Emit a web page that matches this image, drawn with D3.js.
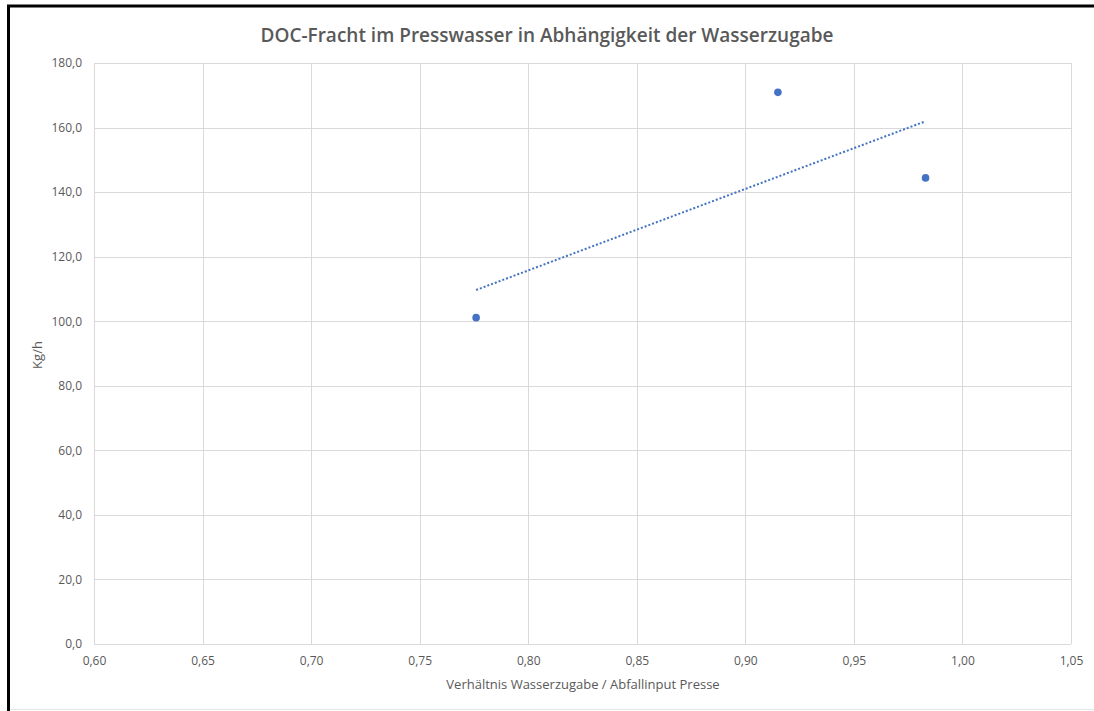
<!DOCTYPE html>
<html>
<head>
<meta charset="utf-8">
<script src="https://cdn.jsdelivr.net/npm/d3@7"></script>
<style>
  body { margin: 0; background: #fff; }
  svg { display: block; }
  .tick text { fill: #595959; font-family: "Open Sans", sans-serif; font-size: 12px; }
  .grid line { stroke: #d9d9d9; stroke-width: 1; }
</style>
</head>
<body>
<svg id="chart" width="1094" height="711"></svg>
<script>
// data
var chartTitle = "DOC-Fracht im Presswasser in Abhängigkeit der Wasserzugabe";
var xTitle = "Verhältnis Wasserzugabe / Abfallinput Presse";
var yTitle = "Kg/h";
var ratio = [0.776, 0.915, 0.983];
var docLoad = [101.1, 170.9, 144.4];
var xTicks = [0.60, 0.65, 0.70, 0.75, 0.80, 0.85, 0.90, 0.95, 1.00, 1.05];
var yTicks = [0, 20, 40, 60, 80, 100, 120, 140, 160, 180];

var de = d3.formatLocale({decimal: ",", thousands: ".", grouping: [3], currency: ["", " €"]});
var fmtX = de.format(".2f"), fmtY = de.format(".1f");

var svg = d3.select("#chart");
var margin = {left: 94, top: 63, right: 1071, bottom: 644};

var x = d3.scaleLinear().domain([0.60, 1.05]).range([margin.left, margin.right]);
var y = d3.scaleLinear().domain([0, 180]).range([margin.bottom, margin.top]);

// frame of the picture
svg.append("line").attr("x1", 8.5).attr("x2", 8.5).attr("y1", 5).attr("y2", 711)
    .attr("stroke", "#000").attr("stroke-width", 3);
svg.append("line").attr("x1", 7).attr("x2", 1094).attr("y1", 6).attr("y2", 6)
    .attr("stroke", "#000").attr("stroke-width", 3);
svg.append("line").attr("x1", 10).attr("x2", 1094).attr("y1", 709.5).attr("y2", 709.5)
    .attr("stroke", "#e6e6e6").attr("stroke-width", 1);

// grid
svg.append("g").attr("class", "grid")
  .selectAll("line.v").data(xTicks).enter().append("line")
    .attr("x1", function(d) { return Math.round(x(d)) + 0.5; })
    .attr("x2", function(d) { return Math.round(x(d)) + 0.5; })
    .attr("y1", margin.top).attr("y2", margin.bottom);
svg.append("g").attr("class", "grid")
  .selectAll("line.h").data(yTicks).enter().append("line")
    .attr("y1", function(d) { return Math.round(y(d)) + 0.5; })
    .attr("y2", function(d) { return Math.round(y(d)) + 0.5; })
    .attr("x1", margin.left).attr("x2", margin.right);

// axes (labels only)
var xAxis = svg.append("g").attr("transform", "translate(0," + margin.bottom + ")")
    .call(d3.axisBottom(x).tickValues(xTicks).tickFormat(fmtX).tickSize(0).tickPadding(12));
xAxis.select(".domain").remove();
var yAxis = svg.append("g").attr("transform", "translate(" + margin.left + ",0)")
    .call(d3.axisLeft(y).tickValues(yTicks).tickFormat(fmtY).tickSize(0).tickPadding(12));
yAxis.select(".domain").remove();

// trendline (least squares, drawn over the data range)
var mx = d3.mean(ratio), my = d3.mean(docLoad);
var sxy = d3.sum(ratio, function(v, i) { return (v - mx) * (docLoad[i] - my); });
var sxx = d3.sum(ratio, function(v) { return (v - mx) * (v - mx); });
var slope = sxy / sxx, icpt = my - slope * mx;
var ends = d3.extent(ratio);
svg.append("line")
    .attr("x1", x(ends[0])).attr("y1", y(icpt + slope * ends[0]))
    .attr("x2", x(ends[1])).attr("y2", y(icpt + slope * ends[1]))
    .attr("stroke", "#4472C4").attr("stroke-width", 2).attr("stroke-dasharray", "2,2");

// points
svg.append("g").selectAll("circle").data(ratio).enter().append("circle")
    .attr("cx", function(d) { return x(d); })
    .attr("cy", function(d, i) { return y(docLoad[i]); })
    .attr("r", 3.8)
    .attr("fill", "#4472C4");

// titles
svg.append("text").attr("x", 547).attr("y", 42).attr("text-anchor", "middle")
    .attr("font-family", "Open Sans, sans-serif").attr("font-size", 19).attr("font-weight", 600)
    .attr("fill", "#595959").text(chartTitle);
svg.append("text").attr("x", 583).attr("y", 689).attr("text-anchor", "middle")
    .attr("font-family", "Open Sans, sans-serif").attr("font-size", 13)
    .attr("fill", "#595959").text(xTitle);
svg.append("text").attr("transform", "translate(42,355) rotate(-90)").attr("text-anchor", "middle")
    .attr("font-family", "Open Sans, sans-serif").attr("font-size", 13)
    .attr("fill", "#595959").text(yTitle);
</script>
</body>
</html>
